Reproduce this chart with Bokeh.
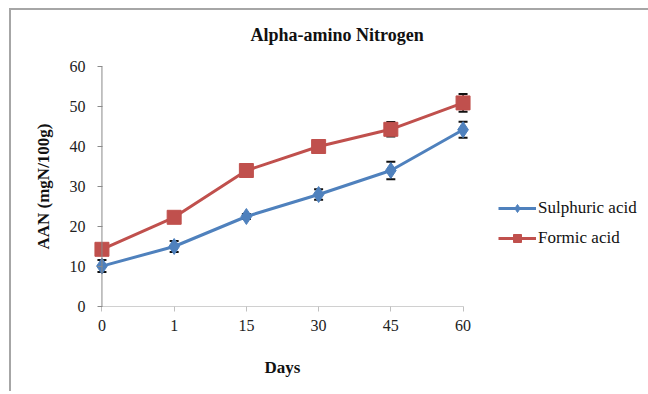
from bokeh.plotting import figure
from bokeh.models import (ColumnDataSource, Range1d, FixedTicker, Whisker, TeeHead,
                          Legend, LegendItem, Title, Span)
from bokeh.embed import file_html
from bokeh.resources import INLINE

days = ["0", "1", "15", "30", "45", "60"]
sulphuric = [10.1, 15.0, 22.5, 28.0, 34.0, 44.2]
sulphuric_err = [1.5, 1.4, 0.6, 1.3, 2.2, 2.0]
formic = [14.3, 22.3, 34.0, 40.0, 44.3, 50.9]
formic_err = [0.8, 1.0, 0.7, 1.3, 1.8, 2.2]
y_ticks = [0, 10, 20, 30, 40, 50, 60]

FONT = "Liberation Serif"
BLUE = "#4F81BD"
RED = "#C0504D"

xs = list(range(len(days)))

p = figure(frame_width=390, frame_height=240, output_backend="svg", toolbar_location=None,
           x_range=Range1d(-0.2, 5.2), y_range=Range1d(0, 60),
           min_border_left=76, min_border_right=168, min_border_top=56,
           min_border_bottom=85)
p.styles = {"border-top": "2px solid #a6a6a6", "border-left": "2px solid #a6a6a6",
            "margin-left": "9px", "margin-top": "8px"}
p.grid.visible = False
p.outline_line_color = None

# spacer between plot frame and title, then the title itself
p.add_layout(Title(text=" ", text_font_size="1px", standoff=19), "above")
t = Title(text="Alpha-amino Nitrogen", text_font=FONT, text_font_size="18px",
          text_font_style="bold", align="left", offset=163, standoff=0,
          text_color="#111111")
p.add_layout(t, "above")

# x axis
p.xaxis.ticker = FixedTicker(ticks=xs)
p.xaxis.major_label_overrides = {i: d for i, d in enumerate(days)}
p.xaxis.bounds = (0, len(days) - 1)
p.xaxis.axis_line_color = "#d0d0d0"
p.xaxis.major_tick_line_color = "#c0c0c0"
p.xaxis.major_tick_in = 0
p.xaxis.major_tick_out = 5
p.xaxis.minor_tick_line_color = None
p.xaxis.major_label_standoff = 8
p.xaxis.axis_label = "Days"
p.xaxis.axis_label_standoff = 24

# y axis: line drawn at x = 0 (first category), ticks shifted onto it
p.yaxis.ticker = FixedTicker(ticks=y_ticks)
p.yaxis.axis_line_color = None
p.yaxis.major_tick_line_color = "#8a8a8a"
p.yaxis.major_tick_out = -10
p.yaxis.major_tick_in = 15
p.yaxis.minor_tick_line_color = None
p.yaxis.major_label_standoff = 2
p.yaxis.axis_label = "AAN (mgN/100g)"
p.yaxis.axis_label_standoff = 14
p.add_layout(Span(location=0, dimension="height", line_color="#8a8a8a", line_width=1))

for ax in (p.xaxis, p.yaxis):
    ax.major_label_text_font = FONT
    ax.major_label_text_font_size = "16px"
    ax.major_label_text_color = "#222222"
    ax.axis_label_text_font = FONT
    ax.axis_label_text_font_size = "17px"
    ax.axis_label_text_font_style = "bold"
    ax.axis_label_text_color = "#111111"

src = ColumnDataSource(dict(
    x=xs, s=sulphuric, f=formic,
    s_lo=[v - e for v, e in zip(sulphuric, sulphuric_err)],
    s_hi=[v + e for v, e in zip(sulphuric, sulphuric_err)],
    f_lo=[v - e for v, e in zip(formic, formic_err)],
    f_hi=[v + e for v, e in zip(formic, formic_err)],
))

for lo, hi in (("s_lo", "s_hi"), ("f_lo", "f_hi")):
    w = Whisker(source=src, base="x", lower=lo, upper=hi, dimension="height",
                line_color="#111111", line_width=1.5,
                upper_head=TeeHead(size=9, line_color="#111111", line_width=2),
                lower_head=TeeHead(size=9, line_color="#111111", line_width=2))
    p.add_layout(w)

l1 = p.line("x", "s", source=src, line_color=BLUE, line_width=3)
m1 = p.scatter("x", "s", source=src, marker="diamond", size=16,
               fill_color=BLUE, line_color=BLUE)
l2 = p.line("x", "f", source=src, line_color=RED, line_width=3)
m2 = p.scatter("x", "f", source=src, marker="square", size=14,
               fill_color=RED, line_color=RED)

legend = Legend(items=[LegendItem(label="Sulphuric acid", renderers=[l1, m1]),
                       LegendItem(label="Formic acid", renderers=[l2, m2])],
                location=(21, 58), orientation="vertical",
                label_text_font=FONT, label_text_font_size="17px",
                label_text_color="#111111",
                glyph_width=38, glyph_height=20, spacing=10, label_standoff=2,
                padding=0, margin=0, border_line_color=None,
                background_fill_alpha=0)
p.add_layout(legend, "right")

open("out.html", "w").write(file_html(p, INLINE))
